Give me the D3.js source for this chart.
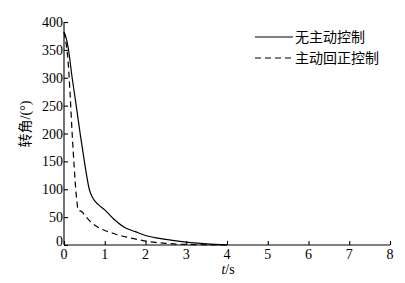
<!DOCTYPE html>
<html>
<head>
<meta charset="utf-8">
<script src="https://cdn.jsdelivr.net/npm/d3@7"></script>
<style>
  body { margin: 0; background: #fff; }
  svg { display: block; }
</style>
</head>
<body>
<svg id="chart" width="405" height="283"></svg>
<script>
// data
var timeNoCtrl = [0, 0.05, 0.1, 0.2, 0.3, 0.4, 0.5, 0.62, 0.7, 0.85, 1.0, 1.2, 1.5, 1.75, 2.0, 2.5, 3.0, 3.5, 4.0];
var angleNoCtrl = [382, 372, 355, 300, 250, 198, 150, 100, 85, 72, 63, 48, 31, 24, 17, 10, 5, 2, 0];
var timeActive = [0, 0.05, 0.1, 0.15, 0.2, 0.25, 0.3, 0.35, 0.43, 0.55, 0.65, 0.88, 1.2, 1.55, 1.87, 2.1, 2.5, 3.0, 4.0];
var angleActive = [382, 362, 330, 270, 200, 140, 90, 63, 60, 50, 42, 30, 21, 14, 9, 6, 3, 1, 0];
var xTicks = [0, 1, 2, 3, 4, 5, 6, 7, 8];
var yTicks = [0, 50, 100, 150, 200, 250, 300, 350, 400];
var legendLabels = ['无主动控制', '主动回正控制'];

(function() {

    var svg = d3.select('#chart'),
        mLeft = 64, mRight = 390, mTop = 22, mBottom = 245,
        numFont = '"Liberation Serif", "Times New Roman", serif',
        cjkFont = '"Noto Sans CJK SC", sans-serif';

    var x = d3.scaleLinear().domain([0, 8]).range([mLeft, mRight]);
    var y = d3.scaleLinear().domain([0, 400]).range([mBottom, mTop]);

    //axes, ticks inward
    var xAxis = svg.append('g')
        .attr('transform', 'translate(0,' + mBottom + ')')
        .call(d3.axisTop(x).tickValues(xTicks).tickSize(4).tickFormat(''));
    xAxis.select('.domain').attr('d', 'M' + mLeft + ',0H' + mRight);

    var yAxis = svg.append('g')
        .attr('transform', 'translate(' + mLeft + ',0)')
        .call(d3.axisRight(y).tickValues(yTicks).tickSize(4).tickFormat(''));
    yAxis.select('.domain').attr('d', 'M0,' + mBottom + 'V' + mTop);

    svg.selectAll('.domain, .tick line').attr('stroke', '#000').attr('stroke-width', 1.1);

    svg.append('g').selectAll('text')
        .data(xTicks)
        .enter()
        .append('text')
        .attr('x', function(d) { return x(d); })
        .attr('y', mBottom + 14)
        .attr('text-anchor', 'middle')
        .attr('font-family', numFont)
        .attr('font-size', 14)
        .attr('fill', '#000')
        .text(function(d) { return d; });

    // the 0 on the y axis sits a little higher, clear of the x axis 0
    svg.append('g').selectAll('text')
        .data(yTicks)
        .enter()
        .append('text')
        .attr('x', mLeft - 1)
        .attr('y', function(d) { return y(d) + (d === 0 ? 1 : 5); })
        .attr('text-anchor', 'end')
        .attr('font-family', numFont)
        .attr('font-size', 14)
        .attr('fill', '#000')
        .text(function(d) { return d; });

    // axis titles
    var xt = svg.append('text')
        .attr('x', 228)
        .attr('y', 274)
        .attr('text-anchor', 'middle')
        .attr('font-family', numFont)
        .attr('font-size', 14);
    xt.append('tspan').attr('font-style', 'italic').text('t');
    xt.append('tspan').text('/s');

    var yt = svg.append('text')
        .attr('transform', 'translate(30,124) rotate(-90)')
        .attr('text-anchor', 'middle')
        .attr('font-size', 14);
    yt.append('tspan').attr('font-family', cjkFont).text('转角');
    yt.append('tspan').attr('font-family', numFont).text('/(°)');

    // curves
    var line = d3.line()
        .x(function(d) { return x(d[0]); })
        .y(function(d) { return y(d[1]); })
        .curve(d3.curveMonotoneX);

    svg.append('path')
        .datum(d3.zip(timeNoCtrl, angleNoCtrl))
        .attr('d', line)
        .attr('fill', 'none')
        .attr('stroke', '#000')
        .attr('stroke-width', 1.2);

    svg.append('path')
        .datum(d3.zip(timeActive, angleActive))
        .attr('d', line)
        .attr('fill', 'none')
        .attr('stroke', '#000')
        .attr('stroke-width', 1.2)
        .attr('stroke-dasharray', '6,4');

    // legend
    var legend = svg.append('g').selectAll('g')
        .data(legendLabels)
        .enter()
        .append('g')
        .attr('transform', function(d, i) { return 'translate(255,' + (37 + i * 21) + ')'; });

    legend.append('line')
        .attr('x1', 0).attr('x2', 38)
        .attr('stroke', '#000')
        .attr('stroke-width', 1.2)
        .attr('stroke-dasharray', function(d, i) { return i ? '6,4' : null; });

    legend.append('text')
        .attr('x', 40)
        .attr('y', 5)
        .attr('font-family', cjkFont)
        .attr('font-size', 14)
        .text(function(d) { return d; });

}());
</script>
</body>
</html>
